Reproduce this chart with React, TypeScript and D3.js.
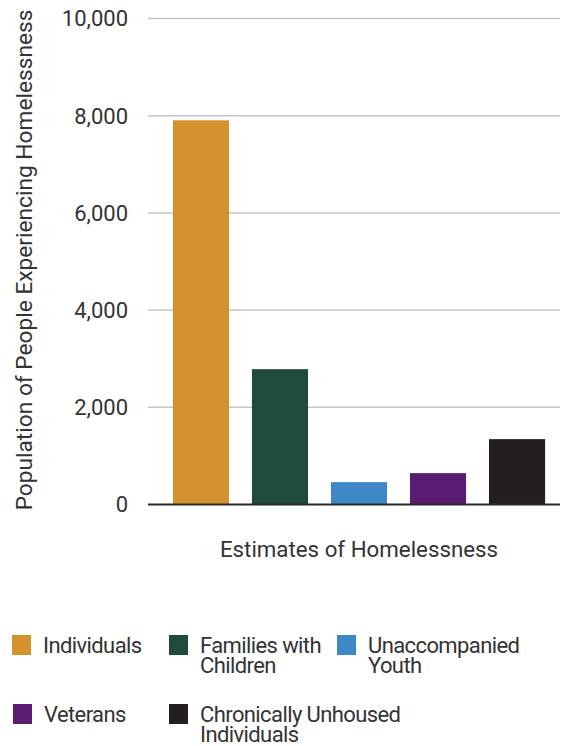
import React from "react";
import * as d3 from "d3";

const categories = ["Individuals", "Families with Children", "Unaccompanied Youth", "Veterans", "Chronically Unhoused Individuals"];
const values = [7905, 2785, 460, 645, 1345];
const colors = ["#D4922F", "#1F4A3E", "#3F88C8", "#5A1C73", "#231F20"];
const legendLines = [["Individuals"], ["Families with", "Children"], ["Unaccompanied", "Youth"], ["Veterans"], ["Chronically Unhoused", "Individuals"]];
const yTicks = [0, 2000, 4000, 6000, 8000, 10000];

const W = 561, H = 746;
const FONT = "Roboto, 'Noto Sans', sans-serif";

export default function App() {
  const x = d3.scaleBand<string>().domain(categories).range([150, 568]).paddingInner(0.29).paddingOuter(0.29);
  const y = d3.scaleLinear().domain([0, 10000]).range([504.5, 18.5]);
  const fmt = d3.format(",");
  const legendPos = [
    { x: 12, y: 635 }, { x: 169, y: 635 }, { x: 337, y: 635 },
    { x: 13, y: 704 }, { x: 169, y: 704 },
  ];
  return (
    <svg width={W} height={H} style={{ position: "absolute", left: 0, top: 0, background: "#fff" }} fontFamily={FONT}>
      {yTicks.map((t) => (
        <g key={t}>
          {t > 0 && <line x1={148} x2={560} y1={y(t)} y2={y(t)} stroke="#c6c6c6" strokeWidth={1.5} />}
          <text x={128} y={y(t)} dy="0.36em" textAnchor="end" fontSize={22} fill="#333">{fmt(t)}</text>
        </g>
      ))}
      {categories.map((c, i) => (
        <rect key={c} x={x(c)} y={y(values[i])} width={x.bandwidth()} height={y(0) - y(values[i])} fill={colors[i]} />
      ))}
      <line x1={148} x2={560} y1={y(0)} y2={y(0)} stroke="#2a2a2a" strokeWidth={2} />
      <text transform={`translate(32, 260) rotate(-90)`} textAnchor="middle" fontSize={22.7} fill="#333">
        Population of People Experiencing Homelessness
      </text>
      <text x={359} y={557} textAnchor="middle" fontSize={22.3} fill="#333">Estimates of Homelessness</text>
      {categories.map((c, i) => (
        <g key={c} transform={`translate(${legendPos[i].x}, ${legendPos[i].y})`}>
          <rect x={0} y={0} width={19} height={20} fill={colors[i]} />
          <text x={31} y={18} fontSize={22} fill="#333" letterSpacing={-0.6}>
            {legendLines[i].map((l, j) => (
              <tspan key={j} x={31} dy={j === 0 ? 0 : 20}>{l}</tspan>
            ))}
          </text>
        </g>
      ))}
    </svg>
  );
}
